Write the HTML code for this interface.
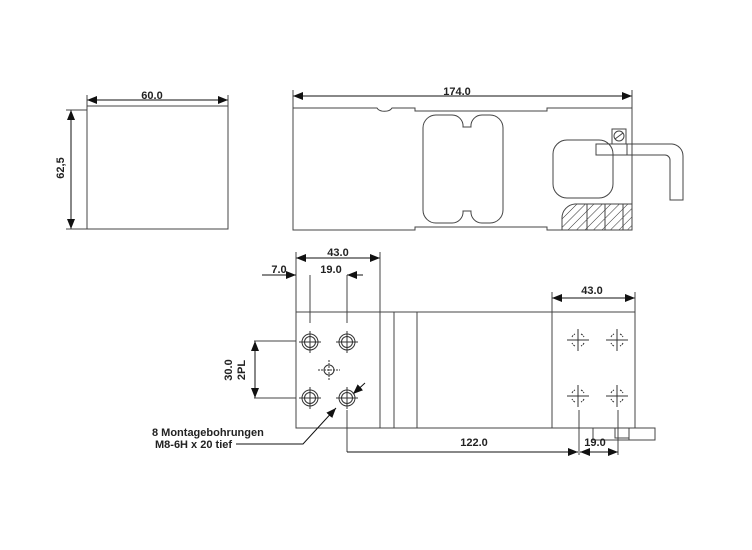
<!DOCTYPE html>
<html><head><style>
html,body{margin:0;padding:0;background:#fff;}
svg{display:block;}
text{font-family:"Liberation Sans",Arial,sans-serif;font-weight:bold;font-size:11px;fill:#222;}
</style></head><body>
<svg width="752" height="550" viewBox="0 0 752 550" xmlns="http://www.w3.org/2000/svg">
<defs>
<marker id="a" markerWidth="10" markerHeight="8" refX="10" refY="4" orient="auto" markerUnits="userSpaceOnUse"><path d="M0,0 L10,4 L0,8 z" fill="#111"/></marker>
<marker id="b" markerWidth="10" markerHeight="8" refX="0" refY="4" orient="auto" markerUnits="userSpaceOnUse"><path d="M10,0 L0,4 L10,8 z" fill="#111"/></marker>
<pattern id="h" width="6" height="6" patternUnits="userSpaceOnUse" patternTransform="rotate(45)"><line x1="0" y1="0" x2="0" y2="6" stroke="#333" stroke-width="1"/></pattern>
<g id="hl" stroke="#333" fill="none"><circle cx="0" cy="0" r="8"/><circle cx="0" cy="0" r="5.5"/><line x1="-11" y1="0" x2="11" y2="0"/><line x1="0" y1="-11" x2="0" y2="11"/></g>
<g id="rh" stroke="#333" fill="none"><line x1="-11" y1="0" x2="11" y2="0"/><line x1="0" y1="-11" x2="0" y2="11"/><path d="M-6,-3 A6,6 0 0 1 -3,-6 M3,-6 A6,6 0 0 1 6,-3 M6,3 A6,6 0 0 1 3,6 M-3,6 A6,6 0 0 1 -6,3" stroke-dasharray="2,1"/></g>
</defs>
<g stroke="#444" stroke-width="1" fill="none">
<rect x="87" y="106" width="141" height="123"/>
<line x1="87" y1="100" x2="228" y2="100" stroke="#111" marker-start="url(#b)" marker-end="url(#a)"/>
<line x1="87" y1="95" x2="87" y2="106"/><line x1="228" y1="95" x2="228" y2="106"/>
<line x1="71" y1="110" x2="71" y2="229" stroke="#111" marker-start="url(#b)" marker-end="url(#a)"/>
<line x1="66" y1="110" x2="87" y2="110"/><line x1="66" y1="229" x2="87" y2="229"/>
<path d="M293,108 L377,108 A8,5 0 0 0 392,108 L415,108 L415,111 L547,111 L547,108 L632,108 L632,230 L547,230 L547,227 L415,227 L415,230 L293,230 Z"/>
<line x1="293" y1="96" x2="632" y2="96" stroke="#111" marker-start="url(#b)" marker-end="url(#a)"/>
<line x1="293" y1="90" x2="293" y2="108"/><line x1="632" y1="90" x2="632" y2="108"/>
<path d="M437,115 L452,115 A11,11 0 0 1 463,127 L471,127 A11,11 0 0 1 482,115 L490,115 A13,13 0 0 1 503,128 L503,210 A13,13 0 0 1 490,223 L482,223 A11,11 0 0 1 471,211 L463,211 A11,11 0 0 1 452,223 L437,223 A13,13 0 0 1 423,210 L423,128 A13,13 0 0 1 437,115 Z"/>
<rect x="553" y="140" width="60" height="58" rx="14"/>
<rect x="612" y="129" width="14" height="15"/>
<circle cx="619" cy="136" r="5"/><line x1="615" y1="139" x2="623" y2="133"/>
<rect x="596" y="144" width="31" height="11"/>
<path d="M627,144 L672,144 A12,12 0 0 1 683,156 L683,200 L670,200 L670,160 A5,5 0 0 0 665,155 L627,155"/>
<path d="M575,204 L632,204 L632,230 L562,230 L562,218 A14,14 0 0 1 575,204 Z" fill="url(#h)"/>
<line x1="587" y1="204" x2="587" y2="230"/><line x1="605" y1="204" x2="605" y2="230"/><line x1="623" y1="204" x2="623" y2="230"/>
<rect x="296" y="312" width="339" height="116"/>
<line x1="380" y1="312" x2="380" y2="428"/><line x1="394" y1="312" x2="394" y2="428"/><line x1="417" y1="312" x2="417" y2="428"/><line x1="552" y1="312" x2="552" y2="428"/>
<path d="M593,428 L593,440 L655,440 L655,428 L635,428"/>
<rect x="615" y="428" width="14" height="10"/><line x1="629" y1="428" x2="629" y2="440"/>
<line x1="296" y1="258" x2="380" y2="258" stroke="#111" marker-start="url(#b)" marker-end="url(#a)"/>
<line x1="296" y1="252" x2="296" y2="312"/><line x1="380" y1="252" x2="380" y2="312"/>
<line x1="262" y1="275" x2="296" y2="275" stroke="#111" marker-end="url(#a)"/>
<line x1="363" y1="275" x2="347" y2="275" stroke="#111" marker-end="url(#a)"/>
<line x1="310" y1="275" x2="310" y2="323"/><line x1="347" y1="275" x2="347" y2="323"/>
<line x1="255" y1="341" x2="255" y2="398" stroke="#111" marker-start="url(#b)" marker-end="url(#a)"/>
<line x1="254" y1="341" x2="296" y2="341"/><line x1="254" y1="398" x2="296" y2="398"/>
<path d="M236,444 L303,444 L336,408" stroke="#111" marker-end="url(#a)"/>
<line x1="365" y1="383" x2="353" y2="394" stroke="#111" marker-end="url(#a)"/>
<line x1="347" y1="410" x2="347" y2="452"/>
<line x1="347" y1="452" x2="578" y2="452" stroke="#111" marker-end="url(#a)"/>
<line x1="580" y1="452" x2="618" y2="452" stroke="#111" marker-start="url(#b)" marker-end="url(#a)"/>
<line x1="579" y1="410" x2="579" y2="455"/><line x1="618" y1="410" x2="618" y2="455"/>
<line x1="552" y1="298" x2="635" y2="298" stroke="#111" marker-start="url(#b)" marker-end="url(#a)"/>
<line x1="552" y1="292" x2="552" y2="312"/><line x1="635" y1="292" x2="635" y2="312"/>
</g>
<use href="#hl" x="310" y="342"/><use href="#hl" x="347" y="342"/><use href="#hl" x="310" y="398"/><use href="#hl" x="347" y="398"/>
<g stroke="#333" fill="none">
<circle cx="329" cy="370" r="5"/><line x1="318" y1="370" x2="340" y2="370" stroke-dasharray="2,1"/><line x1="329" y1="360" x2="329" y2="380" stroke-dasharray="2,1"/>
</g>
<use href="#rh" x="578" y="340"/><use href="#rh" x="617" y="340"/><use href="#rh" x="578" y="396"/><use href="#rh" x="617" y="396"/>
<text x="152" y="99" text-anchor="middle">60.0</text>
<text x="0" y="0" text-anchor="middle" transform="translate(64,168) rotate(-90)">62,5</text>
<text x="457" y="95" text-anchor="middle">174.0</text>
<text x="338" y="256" text-anchor="middle">43.0</text>
<text x="279" y="273" text-anchor="middle">7.0</text>
<text x="331" y="273" text-anchor="middle">19.0</text>
<text x="0" y="0" text-anchor="middle" transform="translate(232,370) rotate(-90)">30.0</text>
<text x="0" y="0" text-anchor="middle" transform="translate(245,370) rotate(-90)">2PL</text>
<text x="152" y="436">8 Montagebohrungen</text>
<text x="155" y="448">M8-6H x 20 tief</text>
<text x="474" y="446" text-anchor="middle">122.0</text>
<text x="595" y="446" text-anchor="middle">19.0</text>
<text x="592" y="294" text-anchor="middle">43.0</text>
</svg>
</body></html>
